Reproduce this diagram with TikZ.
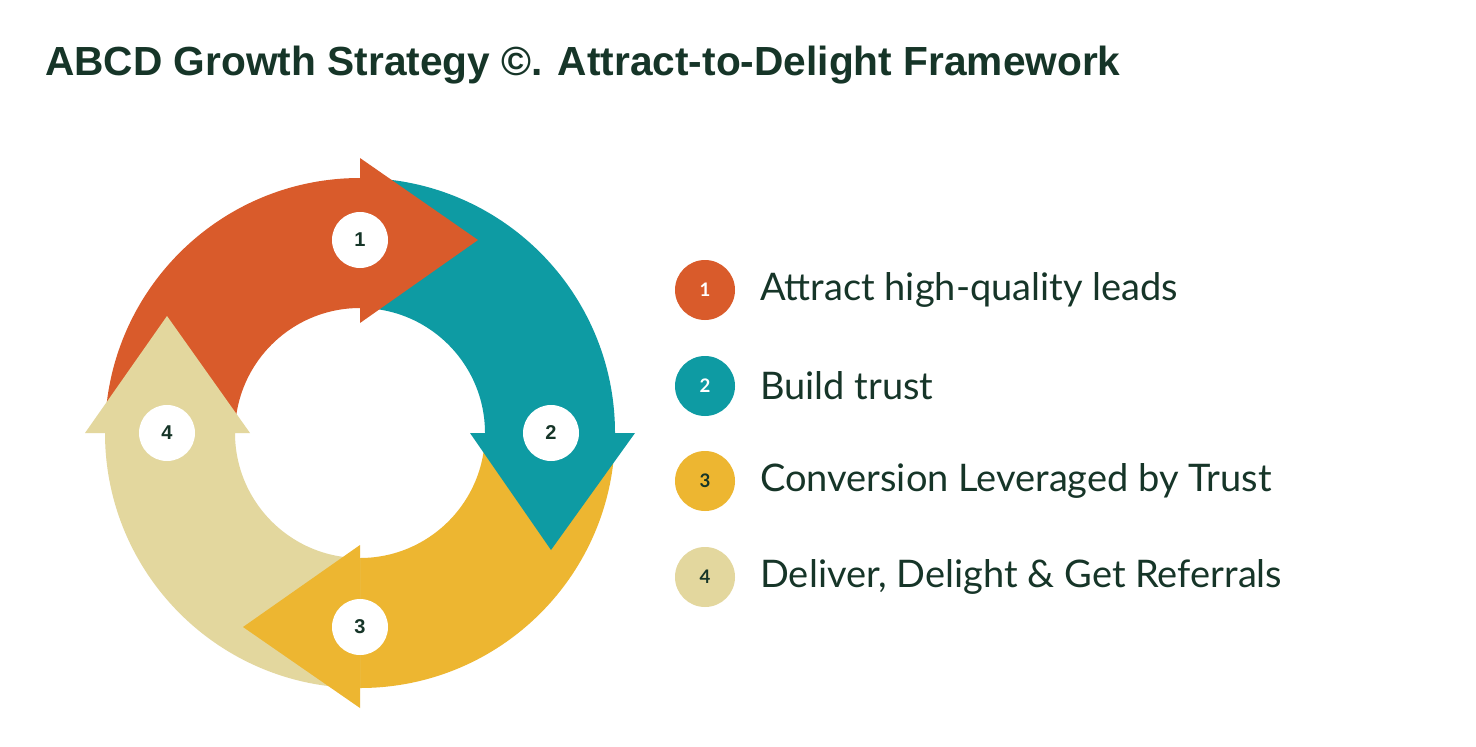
\documentclass[tikz,border=0pt]{standalone}
\usepackage{fontspec}
\usetikzlibrary{calc}
\setmainfont{Lato}
\newfontfamily\titlefont{Liberation Sans}
\definecolor{cred}{HTML}{D95B2B}
\definecolor{cteal}{HTML}{0E9BA3}
\definecolor{cyel}{HTML}{EDB631}
\definecolor{cbei}{HTML}{E3D79E}
\definecolor{cdark}{HTML}{163528}
\begin{document}
\begin{tikzpicture}[x=0.75pt,y=-0.75pt,
  numc/.style={circle,fill=white,minimum size=56*0.75pt,inner sep=0pt,font=\titlefont\bfseries\fontsize{15}{15}\selectfont,text=cdark},
  legc/.style={circle,minimum size=60*0.75pt,inner sep=0pt,font=\bfseries\fontsize{14}{14}\selectfont},
  legt/.style={anchor=west,font=\fontsize{28.5}{30}\selectfont,text=cdark,inner sep=0pt}]
\useasboundingbox (0,0) rectangle (1476,746);
\fill[white] (0,0) rectangle (1476,746);
\node[anchor=west,inner sep=0pt,text=cdark,font=\titlefont\bfseries\fontsize{30.5}{32}\selectfont] (title) at (45,65) {ABCD Growth Strategy ©. Attract-to-Delight Framework};
\coordinate (c) at (360,433);
% bodies
\fill[cred] ($(c)+(-90:255)$) arc[start angle=-90,end angle=-180,radius=255] -- ($(c)+(-180:125)$) arc[start angle=-180,end angle=-90,radius=125] -- cycle;
\fill[cteal] ($(c)+(0:255)$) arc[start angle=0,end angle=-90,radius=255] -- ($(c)+(-90:125)$) arc[start angle=-90,end angle=0,radius=125] -- cycle;
\fill[cyel] ($(c)+(90:255)$) arc[start angle=90,end angle=0,radius=255] -- ($(c)+(0:125)$) arc[start angle=0,end angle=90,radius=125] -- cycle;
\fill[cbei] ($(c)+(180:255)$) arc[start angle=180,end angle=90,radius=255] -- ($(c)+(90:125)$) arc[start angle=90,end angle=180,radius=125] -- cycle;
% arrowheads
\fill[cred] (360,158) -- (360,323) -- (478,240) -- cycle;
\fill[cteal] (470,433) -- (635,433) -- (551,550) -- cycle;
\fill[cyel] (360,545) -- (360,708) -- (243,627) -- cycle;
\fill[cbei] (85,433) -- (250,433) -- (167,316) -- cycle;
% numbers
\node[numc] (n1) at (360,240) {1};
\node[numc] (n2) at (551,433) {2};
\node[numc] (n3) at (360,627) {3};
\node[numc] (n4) at (167,433) {4};
% legend
\node[legc,fill=cred,text=white] (l1) at (705,290) {1};
\node[legc,fill=cteal,text=white] (l2) at (705,386) {2};
\node[legc,fill=cyel,text=cdark] (l3) at (705,481) {3};
\node[legc,fill=cbei,text=cdark] (l4) at (705,577) {4};
\node[legt] (t1) at (760,290) {Attract high-quality leads};
\node[legt] (t2) at (760,386) {Build trust};
\node[legt] (t3) at (760,481) {Conversion Leveraged by Trust};
\node[legt] (t4) at (760,577) {Deliver, Delight \& Get Referrals};
\end{tikzpicture}
\end{document}
